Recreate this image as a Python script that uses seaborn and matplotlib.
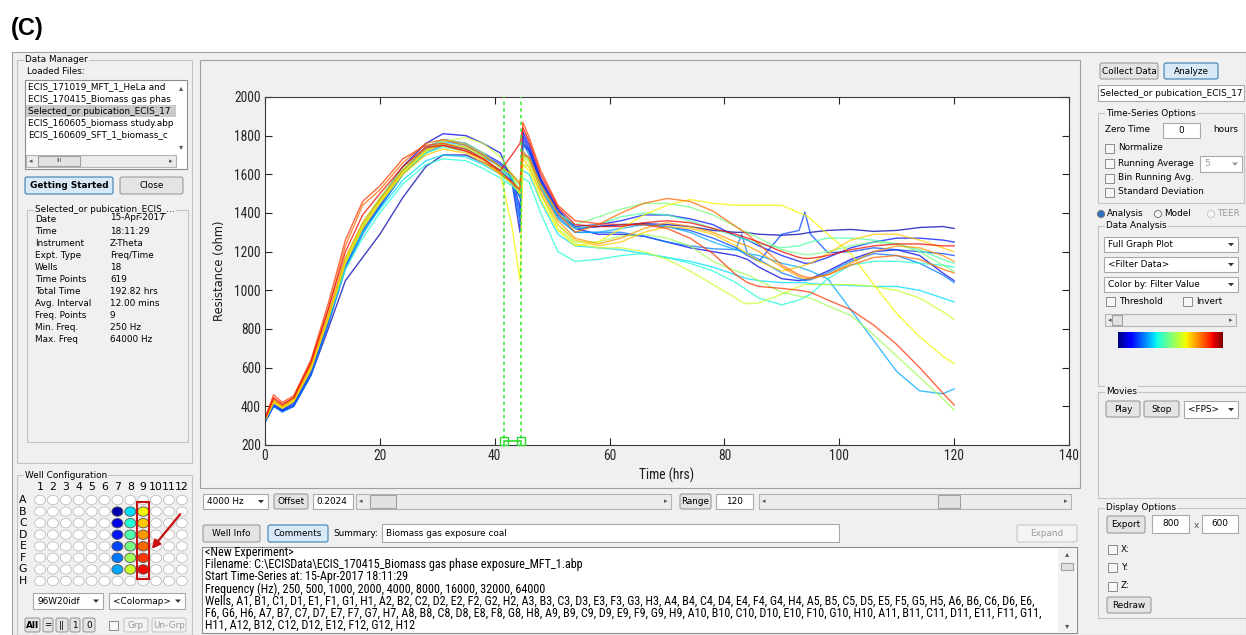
import matplotlib
matplotlib.use("Agg")
import matplotlib.pyplot as plt
from matplotlib import font_manager
from matplotlib.patches import Rectangle, FancyBboxPatch, Ellipse, FancyArrowPatch, Polygon, Circle
import numpy as np
import pandas as pd
import seaborn as sns

W, H = 1246, 635


def font_ok(name):
    try:
        font_manager.findfont(name, fallback_to_default=False)
        return True
    except Exception:
        return False


# a narrow face for the MATLAB-style axes and the comments box, if one is installed
if font_ok("Liberation Sans Narrow"):
    NARROW = dict(family="Liberation Sans Narrow")
elif font_ok("Roboto Condensed"):
    NARROW = dict(family="Roboto Condensed")
elif any(f.name == "DejaVu Sans" and "condensed" in str(f.stretch) for f in font_manager.fontManager.ttflist):
    NARROW = dict(family="DejaVu Sans", stretch="condensed")
else:
    NARROW = dict(family="DejaVu Sans")
UI = ["DejaVu Sans"]

# ---------------------------------------------------------------- data
time_hrs = [0, 1.5, 3, 5, 8, 11, 14, 17, 20, 24, 28, 31, 35, 38, 41, 43, 44.4, 44.9, 46, 48, 51, 54,
            58, 62, 66, 70, 74, 78, 82, 83, 84, 86, 90, 93, 94, 95, 98, 102, 106, 110, 114, 118, 120]

wells = ["B7", "C7", "D7", "E7", "F7", "G7",
         "B8", "C8", "D8", "E8", "F8", "G8",
         "B9", "C9", "D9", "E9", "F9", "G9"]

r_B7 = [320, 400, 375, 400, 560, 800, 1050, 1170, 1290, 1480, 1640, 1700, 1700, 1660, 1620, 1560, 1480, 1760, 1720, 1560, 1400, 1320,
        1330, 1340, 1345, 1340, 1330, 1310, 1300, 1300, 1298, 1290, 1285, 1290, 1295, 1300, 1310, 1315, 1305, 1310, 1325, 1330, 1320]
r_C7 = [330, 420, 385, 420, 590, 850, 1140, 1330, 1470, 1640, 1760, 1810, 1800, 1760, 1710, 1560, 1300, 1820, 1750, 1580, 1420, 1320,
        1290, 1290, 1280, 1250, 1220, 1200, 1180, 1170, 1160, 1120, 1060, 1050, 1055, 1060, 1100, 1160, 1200, 1210, 1180, 1090, 1050]
r_D7 = [325, 410, 380, 410, 580, 840, 1130, 1310, 1440, 1620, 1740, 1780, 1760, 1710, 1660, 1600, 1420, 1800, 1730, 1570, 1410, 1330,
        1340, 1360, 1390, 1390, 1370, 1340, 1280, 1270, 1260, 1230, 1180, 1150, 1140, 1140, 1170, 1220, 1250, 1270, 1270, 1260, 1250]
r_E7 = [320, 405, 375, 405, 570, 830, 1120, 1300, 1430, 1600, 1720, 1760, 1740, 1700, 1650, 1580, 1380, 1780, 1720, 1560, 1390, 1320,
        1330, 1340, 1340, 1330, 1310, 1270, 1220, 1200, 1180, 1150, 1290, 1310, 1405, 1290, 1195, 1200, 1220, 1210, 1200, 1190, 1180]
r_F7 = [315, 400, 370, 400, 560, 820, 1110, 1290, 1430, 1600, 1710, 1750, 1730, 1690, 1640, 1570, 1350, 1760, 1700, 1540, 1380, 1300,
        1300, 1300, 1280, 1250, 1230, 1215, 1210, 1290, 1190, 1160, 1090, 1060, 1050, 1055, 1090, 1150, 1190, 1180, 1140, 1080, 1040]
r_G7 = [330, 425, 395, 430, 600, 860, 1160, 1340, 1470, 1620, 1730, 1770, 1750, 1700, 1640, 1590, 1480, 1720, 1680, 1530, 1370, 1300,
        1300, 1320, 1340, 1330, 1300, 1250, 1210, 1200, 1190, 1180, 1140, 1120, 1110, 1100, 1060, 900, 740, 580, 480, 465, 490]
r_B8 = [335, 430, 400, 440, 620, 870, 1140, 1300, 1420, 1570, 1670, 1700, 1690, 1650, 1600, 1550, 1500, 1620, 1600, 1460, 1290, 1230,
        1220, 1210, 1190, 1170, 1150, 1120, 1080, 1070, 1060, 1050, 1040, 1040, 1040, 1035, 1030, 1025, 1020, 1020, 1000, 960, 940]
r_C8 = [330, 430, 400, 440, 610, 850, 1110, 1270, 1400, 1550, 1650, 1680, 1670, 1630, 1580, 1540, 1500, 1580, 1560, 1400, 1200, 1150,
        1160, 1180, 1190, 1170, 1140, 1100, 1040, 1020, 1000, 960, 925, 950, 965, 980, 1060, 1130, 1150, 1150, 1140, 1130, 1120]
r_D8 = [330, 425, 395, 430, 600, 850, 1140, 1320, 1450, 1600, 1710, 1740, 1720, 1680, 1620, 1580, 1520, 1700, 1680, 1550, 1400, 1320,
        1340, 1380, 1400, 1390, 1360, 1320, 1280, 1270, 1260, 1240, 1220, 1230, 1240, 1250, 1270, 1270, 1260, 1240, 1210, 1160, 1140]
r_E8 = [330, 420, 390, 425, 590, 860, 1160, 1340, 1470, 1620, 1720, 1760, 1740, 1700, 1640, 1590, 1540, 1690, 1670, 1540, 1400, 1340,
        1380, 1420, 1450, 1450, 1430, 1390, 1330, 1310, 1300, 1270, 1210, 1190, 1185, 1185, 1200, 1230, 1250, 1240, 1200, 1130, 1100]
r_F8 = [330, 420, 390, 430, 600, 860, 1160, 1350, 1480, 1630, 1740, 1780, 1760, 1710, 1630, 1600, 1560, 1650, 1640, 1500, 1340, 1250,
        1250, 1280, 1290, 1270, 1230, 1150, 1100, 1090, 1080, 1050, 990, 970, 965, 960, 920, 870, 770, 660, 550, 440, 380]
r_G8 = [335, 430, 400, 440, 610, 870, 1160, 1340, 1460, 1610, 1720, 1770, 1790, 1760, 1690, 1600, 1500, 1700, 1660, 1500, 1320, 1240,
        1220, 1220, 1200, 1160, 1100, 1030, 960, 940, 930, 935, 980, 1020, 1030, 1030, 1030, 1030, 1020, 1000, 960, 890, 850]
r_B9 = [330, 425, 395, 430, 600, 860, 1150, 1330, 1460, 1610, 1720, 1760, 1740, 1690, 1600, 1330, 1050, 1650, 1620, 1470, 1310, 1230,
        1250, 1320, 1390, 1440, 1470, 1450, 1440, 1440, 1440, 1440, 1440, 1400, 1390, 1370, 1290, 1190, 1030, 880, 760, 660, 620]
r_C9 = [325, 420, 390, 425, 590, 850, 1140, 1320, 1450, 1600, 1700, 1730, 1710, 1660, 1600, 1550, 1500, 1680, 1640, 1500, 1340, 1260,
        1230, 1250, 1300, 1330, 1320, 1290, 1230, 1210, 1190, 1150, 1100, 1120, 1130, 1140, 1190, 1260, 1290, 1290, 1260, 1220, 1200]
r_D9 = [330, 430, 400, 435, 610, 870, 1170, 1350, 1470, 1620, 1730, 1750, 1720, 1670, 1600, 1560, 1520, 1720, 1680, 1520, 1360, 1270,
        1240, 1270, 1320, 1350, 1330, 1300, 1250, 1240, 1230, 1200, 1120, 1070, 1060, 1060, 1080, 1140, 1200, 1230, 1220, 1180, 1150]
r_E9 = [335, 440, 405, 445, 620, 900, 1230, 1440, 1520, 1660, 1760, 1780, 1750, 1700, 1640, 1600, 1550, 1700, 1690, 1550, 1400, 1300,
        1340, 1400, 1450, 1475, 1460, 1410, 1330, 1310, 1290, 1240, 1130, 1080, 1070, 1065, 1080, 1130, 1170, 1180, 1160, 1110, 1090]
r_F9 = [340, 460, 420, 455, 640, 930, 1260, 1460, 1540, 1680, 1750, 1760, 1730, 1680, 1610, 1560, 1520, 1870, 1790, 1620, 1440, 1360,
        1345, 1340, 1340, 1320, 1270, 1190, 1080, 1060, 1040, 1020, 1010, 1000, 995, 990, 950, 900, 820, 720, 600, 470, 407]
r_G9 = [335, 445, 410, 445, 630, 900, 1200, 1390, 1500, 1640, 1740, 1750, 1720, 1680, 1620, 1700, 1760, 1840, 1770, 1600, 1430, 1340,
        1330, 1330, 1350, 1360, 1350, 1320, 1290, 1280, 1270, 1250, 1200, 1170, 1165, 1165, 1180, 1210, 1230, 1240, 1240, 1230, 1230]

series = [r_B7, r_C7, r_D7, r_E7, r_F7, r_G7, r_B8, r_C8, r_D8, r_E8, r_F8, r_G8,
          r_B9, r_C9, r_D9, r_E9, r_F9, r_G9]

selection = [41.7, 44.5]   # green cursor lines (hrs)

info_keys = ["Date", "Time", "Instrument", "Expt. Type", "Wells", "Time Points", "Total Time",
             "Avg. Interval", "Freq. Points", "Min. Freq.", "Max. Freq"]
info_vals = ["15-Apr-2017", "18:11:29", "Z-Theta", "Freq/Time", "18", "619", "192.82 hrs",
             "12.00 mins", "9", "250 Hz", "64000 Hz"]
loaded_files = ["ECIS_171019_MFT_1_HeLa and", "ECIS_170415_Biomass gas phas",
                "Selected_or pubication_ECIS_17", "ECIS_160605_biomass study.abp",
                "ECIS_160609_SFT_1_biomass_c"]
comment_lines = [
    "<New Experiment>",
    "Filename: C:\\ECISData\\ECIS_170415_Biomass gas phase exposure_MFT_1.abp",
    "Start Time-Series at: 15-Apr-2017 18:11:29",
    "Frequency (Hz), 250, 500, 1000, 2000, 4000, 8000, 16000, 32000, 64000",
    "Wells, A1, B1, C1, D1, E1, F1, G1, H1, A2, B2, C2, D2, E2, F2, G2, H2, A3, B3, C3, D3, E3, F3, G3, H3, "
    "A4, B4, C4, D4, E4, F4, G4, H4, A5, B5, C5, D5, E5, F5, G5, H5, A6, B6, C6, D6, E6,",
    "F6, G6, H6, A7, B7, C7, D7, E7, F7, G7, H7, A8, B8, C8, D8, E8, F8, G8, H8, A9, B9, C9, D9, E9, F9, G9, "
    "H9, A10, B10, C10, D10, E10, F10, G10, H10, A11, B11, C11, D11, E11, F11, G11,",
    "H11, A12, B12, C12, D12, E12, F12, G12, H12",
]

jet = plt.get_cmap("jet")
colors = [jet(v) for v in np.linspace(0.04, 0.9, len(wells))]
palette = dict(zip(wells, colors))

df = pd.DataFrame({
    "time": np.tile(time_hrs, len(wells)),
    "resistance": np.concatenate(series),
    "well": np.repeat(wells, len(time_hrs)),
})

# ---------------------------------------------------------------- canvas
fig = plt.figure(figsize=(W / 100, H / 100), dpi=100)
renderer = fig.canvas.get_renderer()
gui = fig.add_axes([0, 0, 1, 1])
gui.set_xlim(0, W)
gui.set_ylim(H, 0)
gui.axis("off")

BG = "#f0f0f0"
BLUE_FC, BLUE_EC = "#d8e9f8", "#3c7fb1"


def fit_size(size, sample, width_px, **font):
    # font size at which `sample` is `width_px` wide in the chosen face
    t = fig.text(0, 0, sample, fontsize=size, **font)
    w = t.get_window_extent(renderer).width
    t.remove()
    return size * width_px / w


def box(x, y, w, h, fc="white", ec="#a9a9a9", lw=0.8, z=1):
    gui.add_patch(Rectangle((x, y), w, h, facecolor=fc, edgecolor=ec, linewidth=lw, zorder=z))


def txt(x, y, s, size=6.4, ha="left", color="black", weight="normal", font=None, z=5):
    font = font or dict(family=UI)
    return gui.text(x, y, s, fontsize=size, ha=ha, va="center", color=color,
                    fontweight=weight, zorder=z, **font)


def button(x, y, w, h, s, fc="#e4e4e4", ec="#9c9c9c", weight="normal", color="black", size=6.4):
    gui.add_patch(FancyBboxPatch((x, y), w, h, boxstyle="round,pad=0,rounding_size=2",
                                 facecolor=fc, edgecolor=ec, linewidth=0.8, zorder=2))
    txt(x + w / 2, y + h / 2, s, size=size, ha="center", color=color, weight=weight)


def group(x, y, w, h, title):
    box(x, y, w, h, fc="none", ec="#c4c4c4", lw=0.8)
    gui.text(x + 8, y, title, fontsize=6.4, ha="left", va="center", family=UI, zorder=5,
             bbox=dict(facecolor=BG, edgecolor="none", pad=0.8))


def checkbox(x, y, s=None):
    box(x, y - 4.5, 9, 9, fc="#f7f7f7", ec="#8a8a8a", lw=0.7, z=3)
    if s:
        txt(x + 13, y, s)


def arrow_down(x, y, color="black"):
    gui.add_patch(Polygon([(x - 3, y - 1.5), (x + 3, y - 1.5), (x, y + 1.8)], closed=True,
                          facecolor=color, edgecolor="none", zorder=4))


def dropdown(x, y, w, h, s, color="black"):
    box(x, y, w, h, fc="white", ec="#a9a9a9", z=2)
    txt(x + 4, y + h / 2, s, color=color)
    arrow_down(x + w - 7, y + h / 2, color="#333333" if color == "black" else "#999999")


def slider(x, y, w, h, tx, tw):
    box(x, y, w, h, fc="#ececec", ec="#b4b4b4", z=2)
    box(tx, y + 1, tw, h - 2, fc="#e2e2e2", ec="#a0a0a0", z=3)
    txt(x + 5, y + h / 2, "\u25c2", size=5, ha="center", color="#555555")
    txt(x + w - 5, y + h / 2, "\u25b8", size=5, ha="center", color="#555555")


gui.text(11, 28, "(C)", fontsize=17, fontweight="bold", ha="left", va="center",
         family=["Liberation Sans", "DejaVu Sans"])
box(12, 52, W - 12, H - 52, fc=BG, ec="#a0a0a0", z=0)

# ---------------------------------------------------------------- left panel
group(17, 60, 175, 403, "Data Manager")
txt(27, 72, "Loaded Files:")
box(25, 80, 162, 89, fc="white", ec="#8c8c8c")
box(26, 105, 150, 12, fc="#c9c9c9", ec="none", z=2)
for i, name in enumerate(loaded_files):
    txt(28, 87 + 12 * i, name)
txt(181, 88, "\u25b4", size=6, ha="center", color="#555555")
txt(181, 147, "\u25be", size=6, ha="center", color="#555555")
slider(26, 155, 150, 12, 38, 42)
txt(59, 161, "III", size=4.5, ha="center", color="#555555")

button(25, 177, 88, 17, "Getting Started", fc=BLUE_FC, ec=BLUE_EC, weight="bold")
button(120, 177, 63, 17, "Close")

group(27, 210, 161, 232, "Selected_or pubication_ECIS_...")
for i, (k, v) in enumerate(zip(info_keys, info_vals)):
    txt(35, 219 + 12 * i, k)
    txt(110, 217 + 12 * i if i == 0 else 219 + 12 * i, v)

group(17, 475, 175, 160, "Well Configuration")
col_x = [40 + 12.9 * c for c in range(12)]
row_y = [500 + 11.57 * r for r in range(8)]
rows = "ABCDEFGH"
for c, cx in enumerate(col_x):
    txt(cx, 487, str(c + 1), size=7.8, ha="center")
for r, cy in enumerate(row_y):
    txt(23, cy, rows[r], size=7.8, ha="center")
    for c, cx in enumerate(col_x):
        well = f"{rows[r]}{c + 1}"
        fc = palette.get(well, "white")
        ec = "#bdbdbd" if well not in palette else "#555555"
        gui.add_patch(Ellipse((cx, cy), 11, 9.4, facecolor=fc, edgecolor=ec, linewidth=0.6, zorder=3))
box(136.5, 502, 12, 77, fc="none", ec="#c81010", lw=1.5, z=4)
gui.add_patch(FancyArrowPatch((182, 512), (150, 551), arrowstyle="-|>", mutation_scale=12,
                              color="#c81010", linewidth=1.6, zorder=6))
dropdown(33, 593, 70, 16, "96W20idf")
dropdown(109, 593, 76, 16, "<Colormap>")
button(25, 618, 15, 14, "All", weight="bold")
button(43, 618, 10, 14, "=")
button(56, 618, 12, 14, "||")
button(70, 618, 10, 14, "1")
button(83, 618, 12, 14, "0")
checkbox(109, 625)
button(124, 618, 24, 14, "Grp", color="#9a9a9a", fc="#f2f2f2", ec="#c8c8c8")
button(152, 618, 34, 14, "Un-Grp", color="#9a9a9a", fc="#f2f2f2", ec="#c8c8c8")

# ---------------------------------------------------------------- centre panel
box(200, 60, 880, 428, fc=BG, ec="#a0a0a0")
dropdown(203, 494, 65, 15, "4000 Hz")
button(274, 494, 34, 15, "Offset")
box(313, 494, 40, 15)
txt(316, 501.5, "0.2024")
slider(356, 494, 315, 15, 370, 26)
button(680, 494, 31, 15, "Range")
box(716, 494, 37, 15)
txt(726, 501.5, "120")
slider(759, 494, 312, 15, 938, 22)

button(203, 525, 57, 17, "Well Info")
button(268, 525, 60, 17, "Comments", fc=BLUE_FC, ec=BLUE_EC)
txt(333, 533.5, "Summary:")
box(382, 524, 457, 18)
txt(386, 533, "Biomass gas exposure coal")
button(1017, 525, 60, 17, "Expand", color="#9a9a9a", fc="#f4f4f4", ec="#c8c8c8")

box(202, 547, 875, 86, fc="white", ec="#8c8c8c")
box(1058, 548, 18, 84, fc="#f2f2f2", ec="none", z=2)
box(1061, 563, 12, 7, fc="#e0e0e0", ec="#a0a0a0", z=3)
txt(1067, 554, "\u25b4", size=6, ha="center", color="#555555")
txt(1067, 626, "\u25be", size=6, ha="center", color="#555555")
comment_size = min(9.0, fit_size(8.0, comment_lines[4], 838, **NARROW))
for i, line in enumerate(comment_lines):
    txt(205, 552.5 + 12.2 * i, line, size=comment_size, font=NARROW)

# ---------------------------------------------------------------- right panel
button(1100, 63, 58, 16, "Collect Data")
button(1164, 63, 54, 16, "Analyze", fc=BLUE_FC, ec=BLUE_EC)
box(1098, 85, 146, 16)
txt(1100, 93, "Selected_or pubication_ECIS_17")
group(1098, 113, 146, 90, "Time-Series Options")
txt(1105, 130, "Zero Time")
box(1163, 123, 37, 15)
txt(1181.5, 130.5, "0", ha="center")
txt(1213, 130, "hours")
for yy, s in zip([148, 163, 178, 192], ["Normalize", "Running Average", "Bin Running Avg.", "Standard Deviation"]):
    checkbox(1105, yy, s)
dropdown(1200, 156, 42, 16, "5", color="#999999")

gui.add_patch(Circle((1101, 214), 3.6, facecolor="#2f6fc0", edgecolor="#7a7a7a", linewidth=0.7, zorder=3))
txt(1107, 214, "Analysis")
gui.add_patch(Circle((1158, 214), 3.6, facecolor="#f7f7f7", edgecolor="#7a7a7a", linewidth=0.7, zorder=3))
txt(1164, 214, "Model")
gui.add_patch(Circle((1211, 214), 3.6, facecolor="#f7f7f7", edgecolor="#c8c8c8", linewidth=0.7, zorder=3))
txt(1217, 214, "TEER", color="#9a9a9a")

group(1098, 226, 150, 160, "Data Analysis")
dropdown(1104, 237, 134, 15, "Full Graph Plot")
dropdown(1104, 257, 134, 15, "<Filter Data>")
dropdown(1104, 277, 134, 15, "Color by: Filter Value")
checkbox(1106, 301, "Threshold")
checkbox(1183, 301, "Invert")
slider(1105, 314, 131, 12, 1112, 10)
gui.imshow(np.linspace(0, 1, 256)[None, :], cmap="jet", aspect="auto",
           extent=[1118, 1223, 348, 332], zorder=3)

group(1098, 392, 150, 106, "Movies")
button(1106, 401, 34, 16, "Play")
button(1144, 401, 35, 16, "Stop")
dropdown(1184, 401, 54, 17, "<FPS>")

group(1098, 508, 150, 110, "Display Options")
button(1107, 516, 38, 17, "Export")
box(1152, 515, 37, 18)
txt(1170.5, 523, "800", ha="center")
txt(1194, 525, "x", color="#555555")
box(1202, 515, 36, 18)
txt(1220, 523, "600", ha="center")
for yy, s in zip([549, 567, 586], ["X:", "Y:", "Z:"]):
    checkbox(1108, yy, s)
button(1107, 597, 44, 16, "Redraw")

gui.set_xlim(0, W)
gui.set_ylim(H, 0)

# ---------------------------------------------------------------- resistance plot
ax = fig.add_axes([265 / W, 1 - 445 / H, 804 / W, 348 / H])
ax.set_zorder(3)
ax.set_facecolor("white")
sns.lineplot(data=df, x="time", y="resistance", hue="well", palette=palette,
             estimator=None, legend=False, linewidth=1.0, alpha=0.75, ax=ax)
for t in selection:
    ax.axvline(t, color="#3ee83e", linestyle=(0, (2, 2)), linewidth=1.2, zorder=4)
ax.plot(selection, [221, 221], color="#2ed82e", marker="s", markersize=6,
        markerfacecolor="none", linewidth=1.2, zorder=5, clip_on=False)

tick_size = min(10.5, fit_size(8.0, "2000", 27, **NARROW))
ax.set_xlim(0, 140)
ax.set_ylim(200, 2000)
ax.set_xticks(range(0, 141, 20))
ax.set_yticks(range(200, 2001, 200))
ax.tick_params(direction="in", length=5, width=0.8, top=True, right=True,
               labelsize=tick_size, colors="#262626", pad=3)
for lab in ax.get_xticklabels() + ax.get_yticklabels():
    lab.set_fontproperties(font_manager.FontProperties(size=tick_size, **NARROW))
for sp in ax.spines.values():
    sp.set_color("#3a3a3a")
    sp.set_linewidth(0.8)
ax.set_xlabel("Time (hrs)", fontsize=tick_size, color="#1a1a1a", labelpad=3, **NARROW)
ax.set_ylabel("Resistance (ohm)", fontsize=8.3, family=UI, color="#1a1a1a", labelpad=6)

fig.savefig("out.png", dpi=100, facecolor="white")
